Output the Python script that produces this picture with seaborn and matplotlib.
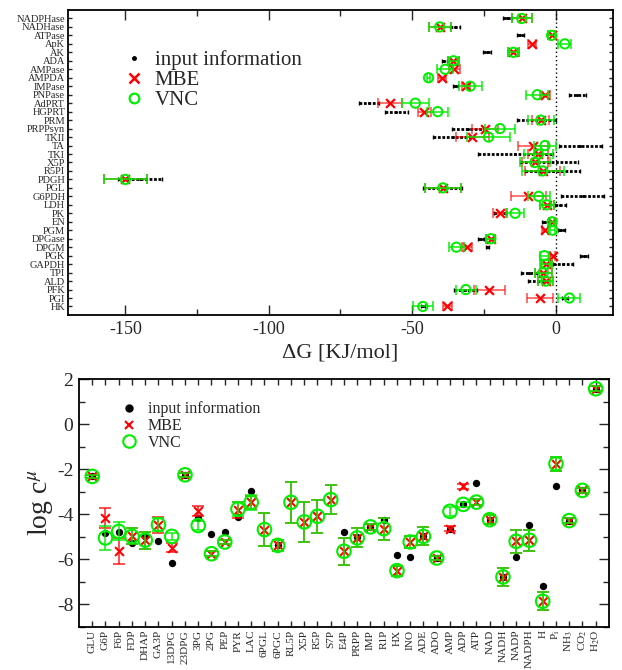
import numpy as np
import pandas as pd
import matplotlib
matplotlib.use("Agg")
import matplotlib.pyplot as plt
from matplotlib.lines import Line2D
from matplotlib.ticker import MultipleLocator
import seaborn as sns

# ---------------- data: top panel (reaction free energies) ----------------
reactions = ["NADPHase", "NADHase", "ATPase", "ApK", "AK", "ADA", "AMPase", "AMPDA",
             "IMPase", "PNPase", "AdPRT", "HGPRT", "PRM", "PRPPsyn", "TKII", "TA", "TKI",
             "X5P", "R5PI", "PDGH", "PGL", "G6PDH", "LDH", "PK", "EN", "PGM", "DPGase",
             "DPGM", "PGK", "GAPDH", "TPI", "ALD", "PFK", "PGI", "HK"]
dg_input = [-16.9, -35.0, -12.3, np.nan, -24.0, -38.8, np.nan, np.nan, -34.9, 7.6,
            -65.1, -55.5, -6.7, -30.4, -35.6, 8.6, -14.0, -2.2, -1.0, -144.8,
            -39.3, 9.4, 1.7, -19.4, -3.7, 2.0, -26.0, -23.8, 9.8, 2.7,
            -9.3, -6.0, -31.5, 3.2, -46.3]
dg_input_err = [1.6, 1.7, 1.3, np.nan, 1.4, 0.9, np.nan, np.nan, 1.0, 2.9,
                3.5, 4.1, 6.8, 5.8, 7.0, 7.4, 13.0, 10.1, 9.5, 7.7,
                6.8, 7.4, 2.0, 2.0, 1.2, 1.2, 1.2, 0.6, 1.4, 3.5,
                2.9, 3.5, 4.0, 1.0, 0.8]
dg_mbe = [-11.8, -40.4, -1.4, -8.1, -14.7, -35.6, -35.3, -39.6, -31.3, -3.7,
          -57.8, -45.8, -5.2, -24.6, -29.0, -7.8, -6.0, -7.2, -4.5, -150.0,
          -39.3, -9.5, -3.1, -19.4, -1.2, -3.7, -22.6, -30.9, -1.0, -3.2,
          -4.3, -3.4, -23.1, -5.4, -37.7]
dg_mbe_err = [3.5, 3.9, 1.2, 1.4, 1.8, 1.8, 2.0, 1.3, 1.5, 1.6,
              4.2, 2.3, 3.0, 4.4, 5.8, 5.2, 3.5, 4.5, 6.0, 7.5,
              6.4, 6.1, 2.4, 2.3, 1.0, 1.0, 1.5, 1.8, 0.8, 2.0,
              2.9, 2.6, 5.5, 4.5, 1.5]
dg_vnc = [-11.8, -40.4, -1.4, 3.2, -14.7, -35.6, -38.5, -44.3, -29.8, -6.4,
          -48.9, -41.1, -5.2, -19.4, -23.4, -3.7, -6.0, -7.2, -4.5, -150.0,
          -39.3, -5.9, -3.1, -14.1, -1.2, -1.0, -22.6, -34.6, -3.9, -3.4,
          -4.3, -3.4, -31.3, 4.8, -46.3]
dg_vnc_err = [3.5, 3.9, 1.2, 2.3, 1.9, 1.8, 2.9, 0.5, 4.0, 3.8,
              4.6, 3.6, 4.5, 5.1, 7.4, 4.0, 5.0, 5.2, 7.3, 7.4,
              6.4, 3.9, 2.4, 3.1, 0.8, 0.8, 1.5, 2.6, 1.7, 2.0,
              2.9, 2.6, 3.5, 3.8, 3.4]

# ---------------- data: bottom panel (log concentrations) ----------------
metabolites = ["GLU", "G6P", "F6P", "FDP", "DHAP", "GA3P", "13DPG", "23DPG", "3PG", "2PG",
               "PEP", "PYR", "LAC", "6PGL", "6PGC", "RL5P", "X5P", "R5P", "S7P", "E4P",
               "PRPP", "IMP", "R1P", "HX", "INO", "ADE", "ADO", "AMP", "ADP", "ATP",
               "NAD", "NADH", "NADP", "NADPH", "H", r"P$_\mathrm{i}$", r"NH$_3$",
               r"CO$_2$", r"H$_2$O"]
lc_input = [-2.32, -4.83, -4.80, -5.27, -4.98, -5.17, -6.16, -2.25, -4.17, -4.89,
            -4.79, -4.10, -2.97, np.nan, -5.38, np.nan, np.nan, np.nan, np.nan, -4.79,
            -5.00, -4.56, -4.24, -5.79, -5.89, -4.98, -5.94, -4.64, -3.56, -2.61,
            -4.24, -6.78, -5.89, -4.46, -7.19, -2.76, -4.28, -2.94, 1.57]
lc_mbe = [-2.32, -4.17, -5.64, -4.98, -5.15, -4.46, -5.49, -2.25, -3.87, -5.75,
          -5.23, -3.80, -3.47, -4.68, -5.38, -3.47, -4.34, -4.09, -3.35, -5.64,
          -5.05, -4.56, -4.64, -6.50, -5.23, -4.98, -5.94, -4.64, -2.76, -3.46,
          -4.24, -6.78, -5.20, -5.15, -7.86, -1.76, -4.28, -2.94, 1.57]
lc_mbe_err = [0.08, 0.45, 0.57, 0.35, 0.38, 0.35, 0.20, 0.10, 0.22, 0.10,
              0.10, 0.35, 0.30, 0.74, 0.26, 0.90, 0.88, 0.72, 0.66, 0.60,
              0.42, 0.15, 0.48, 0.22, 0.28, 0.40, 0.10, 0.10, 0.10, 0.15,
              0.20, 0.40, 0.50, 0.46, 0.40, 0.30, 0.10, 0.10, 0.10]
lc_vnc = [-2.32, -5.05, -4.76, -4.98, -5.15, -4.46, -4.98, -2.25, -4.50, -5.75,
          -5.23, -3.77, -3.47, -4.68, -5.38, -3.47, -4.34, -4.09, -3.35, -5.64,
          -5.05, -4.56, -4.64, -6.50, -5.23, -4.98, -5.94, -3.87, -3.56, -3.46,
          -4.24, -6.78, -5.20, -5.15, -7.86, -1.76, -4.28, -2.94, 1.57]
lc_vnc_err = [0.08, 0.55, 0.40, 0.35, 0.38, 0.30, 0.15, 0.10, 0.18, 0.10,
              0.10, 0.30, 0.33, 0.74, 0.26, 0.90, 0.88, 0.72, 0.66, 0.60,
              0.42, 0.15, 0.48, 0.22, 0.28, 0.40, 0.10, 0.20, 0.10, 0.15,
              0.20, 0.40, 0.50, 0.46, 0.40, 0.30, 0.10, 0.10, 0.10]

# ---------------- style ----------------
sns.set_theme(style="ticks")
plt.rcParams["font.family"] = ["Liberation Serif", "DejaVu Serif"]
plt.rcParams["mathtext.fontset"] = "stix"
plt.rcParams["axes.unicode_minus"] = False
plt.rcParams["xtick.direction"] = "in"
plt.rcParams["ytick.direction"] = "in"

RED = "#ff0000"
GREEN = "#00ee00"

fig = plt.figure(figsize=(6.22, 6.70), dpi=100)

# =============== top panel ===============
ax1 = fig.add_axes([0.1093, 0.5299, 0.8762, 0.4552])
n = len(reactions)
ypos = np.arange(n)[::-1].astype(float)
top = pd.DataFrame({"reaction": reactions, "y": ypos,
                    "inp": dg_input, "inp_err": dg_input_err,
                    "mbe": dg_mbe, "mbe_err": dg_mbe_err,
                    "vnc": dg_vnc, "vnc_err": dg_vnc_err})

ax1.axvline(0, color="black", ls=(0, (1, 2)), lw=1.0, zorder=1)

eb = ax1.errorbar(top["inp"], top["y"], xerr=top["inp_err"], fmt="none",
                  ecolor="black", elinewidth=2.0, capsize=1.5, capthick=1.0, zorder=2)
for lc in eb[2]:
    lc.set_linestyle((0, (1, 0.6)))
sns.scatterplot(data=top, x="inp", y="y", ax=ax1, color="black", s=5,
                marker="o", linewidth=0, zorder=3, legend=False)

ax1.errorbar(top["mbe"], top["y"], xerr=top["mbe_err"], fmt="none",
             ecolor=RED, alpha=0.6, elinewidth=1.3, capsize=3.5, capthick=1.3, zorder=4)
sns.scatterplot(data=top, x="mbe", y="y", ax=ax1, color=RED, s=40,
                marker="x", linewidth=1.6, zorder=5, legend=False)

ax1.errorbar(top["vnc"], top["y"], xerr=top["vnc_err"], fmt="none",
             ecolor=GREEN, alpha=0.8, elinewidth=1.3, capsize=3.5, capthick=1.3, zorder=6)
sns.scatterplot(data=top, x="vnc", y="y", ax=ax1, s=45, marker="o",
                facecolor="none", edgecolor=GREEN, linewidth=1.4, zorder=7, legend=False)

ax1.set_xlim(-170, 20)
ax1.set_ylim(-1, 35)
ax1.set_yticks(ypos)
ax1.set_yticklabels(reactions, fontsize=7.5)
ax1.xaxis.set_major_locator(MultipleLocator(50))
ax1.xaxis.set_minor_locator(MultipleLocator(25))
ax1.tick_params(axis="x", which="major", length=7, width=1.0, top=True, labelsize=13, pad=4)
ax1.tick_params(axis="x", which="minor", length=4, width=1.0, top=True)
ax1.tick_params(axis="y", which="major", length=3, width=1.0, right=True, pad=2)
ax1.set_xlabel("ΔG [KJ/mol]", fontsize=16, labelpad=4)
ax1.set_ylabel("")
for sp in ax1.spines.values():
    sp.set_linewidth(1.3)
    sp.set_color("black")

h1 = [Line2D([], [], ls="none", marker="o", color="black", ms=2.5),
      Line2D([], [], ls="none", marker="x", color=RED, ms=7, mew=1.8),
      Line2D([], [], ls="none", marker="o", mfc="none", mec=GREEN, ms=7, mew=1.6)]
ax1.legend(h1, ["input information", "MBE", "VNC"], loc="upper left",
           bbox_to_anchor=(0.075, 0.915), frameon=False, fontsize=15,
           handlelength=1.0, handletextpad=0.5, labelspacing=0.02, borderpad=0.2)

# =============== bottom panel ===============
ax2 = fig.add_axes([0.127, 0.0642, 0.852, 0.3701])
xpos = np.arange(len(metabolites)).astype(float)
bot = pd.DataFrame({"met": metabolites, "x": xpos,
                    "inp": lc_input, "mbe": lc_mbe, "mbe_err": lc_mbe_err,
                    "vnc": lc_vnc, "vnc_err": lc_vnc_err})

sns.scatterplot(data=bot, x="x", y="inp", ax=ax2, color="black", s=28,
                marker="o", linewidth=0, zorder=2, legend=False)
ax2.errorbar(bot["x"], bot["mbe"], yerr=bot["mbe_err"], fmt="none",
             ecolor=RED, alpha=0.75, elinewidth=1.3, capsize=4.5, capthick=1.3, zorder=3)
sns.scatterplot(data=bot, x="x", y="mbe", ax=ax2, color=RED, s=40,
                marker="x", linewidth=1.5, zorder=4, legend=False)
ax2.errorbar(bot["x"], bot["vnc"], yerr=bot["vnc_err"], fmt="none",
             ecolor=GREEN, alpha=0.8, elinewidth=1.3, capsize=4.5, capthick=1.3, zorder=5)
sns.scatterplot(data=bot, x="x", y="vnc", ax=ax2, s=95, marker="o",
                facecolor="none", edgecolor=GREEN, linewidth=1.5, zorder=6, legend=False)

ax2.set_xlim(-1, 39)
ax2.set_ylim(-9, 2)
ax2.set_xticks(xpos)
ax2.set_xticklabels(metabolites, rotation=90, fontsize=8.1)
ax2.yaxis.set_major_locator(MultipleLocator(2))
ax2.yaxis.set_minor_locator(MultipleLocator(1))
ax2.tick_params(axis="x", which="major", length=4, width=1.0, top=True, pad=2)
ax2.tick_params(axis="y", which="major", length=7, width=1.0, right=True, labelsize=14, pad=4)
ax2.tick_params(axis="y", which="minor", length=4, width=1.0, right=True)
ax2.set_xlabel("")
ax2.set_ylabel(r"log c$^{\mu}$", fontsize=20)
ax2.yaxis.set_label_coords(-0.045, 0.5)
for sp in ax2.spines.values():
    sp.set_linewidth(1.3)
    sp.set_color("black")

h2 = [Line2D([], [], ls="none", marker="o", color="black", ms=5),
      Line2D([], [], ls="none", marker="x", color=RED, ms=6, mew=1.5),
      Line2D([], [], ls="none", marker="o", mfc="none", mec=GREEN, ms=9, mew=1.5)]
ax2.legend(h2, ["input information", "MBE", "VNC"], loc="upper left",
           bbox_to_anchor=(0.055, 0.955), frameon=False, fontsize=11.5,
           handlelength=1.2, handletextpad=0.6, labelspacing=0.05, borderpad=0.2)

fig.savefig("out.png", dpi=100)
